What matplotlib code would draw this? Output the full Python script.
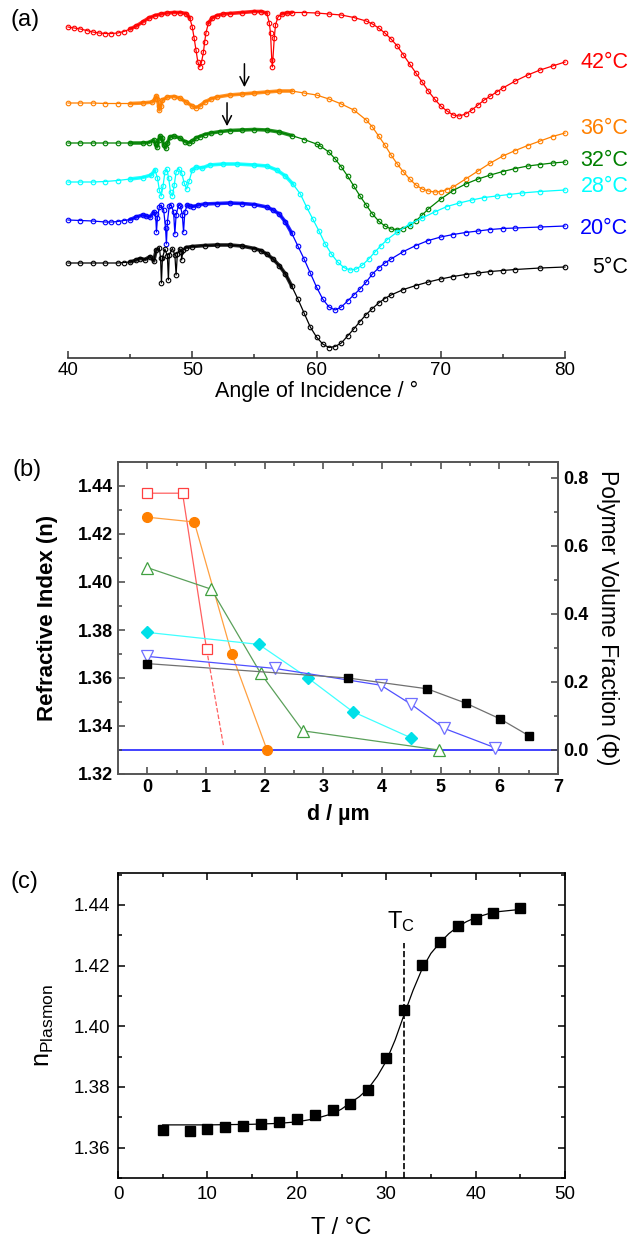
import matplotlib
matplotlib.use('Agg')
import matplotlib.pyplot as plt
from matplotlib.ticker import MultipleLocator

plt.rcParams['font.family'] = ['Liberation Sans', 'DejaVu Sans']
plt.rcParams['mathtext.fontset'] = 'custom'
plt.rcParams['mathtext.rm'] = 'Liberation Sans'
plt.rcParams['mathtext.it'] = 'Liberation Sans'

# ---------------- (a) SPR reflectivity scans, offset curves ----------------
# angle in degrees, reflectivity read as height in the offset stack (arb. units)
ang_42 = [40.0, 40.5, 41.0, 41.5, 42.0, 42.5, 43.0, 43.5, 44.0, 44.5, 45.0, 45.5, 46.0, 46.5,
          47.0, 47.5, 48.0, 48.5, 49.0, 49.5, 49.8, 50.0, 50.15, 50.3, 50.45, 50.6, 50.75,
          50.9, 51.0, 51.1, 51.3, 51.6, 52.0, 52.5, 53.0, 54.0, 55.0, 55.5, 56.0, 56.2, 56.3,
          56.4, 56.45, 56.6, 56.7, 56.9, 57.2, 57.6, 58.0, 59.0, 60.0, 61.0, 62.0, 63.0,
          64.0, 64.5, 65.0, 65.5, 66.0, 66.5, 67.0, 67.5, 68.0, 68.5, 69.0, 69.5, 70.0, 70.5,
          71.0, 71.5, 72.0, 72.5, 73.0, 73.5, 74.0, 74.5, 75.0, 76.0, 77.0, 78.0, 79.0, 80.0]
px_42 = [27, 28, 29, 30.5, 32, 33, 33.5, 33.5, 33, 31.5, 29, 26, 22, 18,
         15.5, 14, 13, 12.5, 12.5, 13.5, 18, 27, 38, 50, 62, 67, 62,
         52, 42, 33, 23, 18, 15.5, 14, 13.5, 12.5, 11.5, 11.5, 13, 23, 33,
         60, 67, 38, 25, 17, 14, 13, 12.5, 12.5, 13, 14, 15, 17.5,
         21, 24, 28, 33, 39, 46, 55, 64, 73, 82, 91, 99, 106, 111,
         115, 116, 114, 110, 105, 100, 96, 92, 88, 81, 75, 70, 66, 62]

ang_36 = [40, 41, 42, 43, 44, 45, 46, 46.8, 47.0, 47.1, 47.2, 47.3, 47.35, 47.45, 47.6, 48.0,
          48.5, 49.0, 49.5, 50.0, 50.3, 50.6, 51.0, 51.5, 52.0, 53.0, 54.0, 55.0, 56.0, 57.0,
          58.0, 59.0, 60.0, 61.0, 62.0, 63.0, 64.0, 64.5, 65.0, 65.5, 66.0, 66.5, 67.0, 67.5,
          68.0, 68.5, 69.0, 69.5, 70.0, 70.5, 71.0, 72.0, 73.0, 74.0, 75.0, 76.0, 77.0, 78.0,
          79.0, 80.0]
px_36 = [103, 103, 103, 103.5, 103.5, 103.5, 103, 102, 99, 96, 99, 106, 110, 106, 100, 97,
         96.5, 98, 102, 106, 107.5, 106, 102, 99, 97, 95, 94, 93, 92, 91,
         91, 93, 95, 99, 104, 110, 120, 127, 136, 145, 155, 164, 172, 179,
         185, 189, 191, 192, 191.5, 189.5, 187, 179, 171, 163, 156, 150.5, 145.5, 141,
         136.5, 133]

ang_32 = [40, 41, 42, 43, 44, 45, 46, 46.5, 46.9, 47.05, 47.15, 47.3, 47.4, 47.55, 47.7,
          47.85, 48.0, 48.2, 48.5, 49.0, 49.4, 49.7, 50.0, 50.3, 50.6, 51.0, 51.5, 52.2, 53.0,
          54.0, 55.0, 56.0, 57.0, 58.0, 59.0, 60.0, 60.3, 61.0, 61.5, 62.0, 62.5, 63.0, 63.5,
          64.0, 64.5, 65.0, 65.5, 66.0, 66.5, 67.0, 67.5, 68.0, 68.5, 69.0, 70.0, 71.0, 72.0,
          73.0, 74.0, 75.0, 76.0, 77.0, 78.0, 79.0, 80.0]
px_32 = [143, 143, 143, 143, 143, 143, 143, 142.5, 140, 144, 147, 140, 136, 138, 145,
         148, 143, 137, 136, 138, 141.5, 143, 141, 138, 136.5, 134.5, 133, 131.7, 130.5,
         130, 129.5, 130, 132, 135.5, 139.5, 144, 146, 152, 159, 167, 176, 186, 196,
         205, 214, 221, 226, 229, 229.5, 228.5, 225.5, 221, 215, 209, 199, 190.5, 184,
         179, 175, 171.5, 168.5, 166, 164.5, 163, 162]

ang_28 = [40, 41, 42, 43, 44, 45, 46, 46.7, 47.0, 47.2, 47.35, 47.5, 47.65, 47.8, 47.95,
          48.1, 48.25, 48.4, 48.55, 48.7, 48.9, 49.15, 49.35, 49.55, 49.75, 50.0, 50.3, 50.8,
          51.4, 52.5, 53.6, 55.0, 56.0, 56.8, 57.5, 58.1, 58.7, 59.2, 59.7, 60.2, 60.7, 61.2,
          61.7, 62.2, 62.7, 63.2, 63.7, 64.2, 64.7, 65.2, 65.7, 66.5, 67.5, 68.5, 69.5, 70.5,
          71.5, 72.5, 73.5, 74.5, 75.5, 76.5, 78.0, 80.0]
px_28 = [182, 182, 182, 181.5, 180.5, 179, 177.5, 175, 170, 178, 190, 196, 186, 172, 169,
         178, 192, 196, 185, 172, 168.5, 173, 183, 189, 181, 170, 167, 168,
         165, 164, 164, 165, 166, 170, 176, 184, 194, 207, 219, 231, 244, 254,
         262, 267.5, 270, 269, 265, 259, 252, 245.5, 239.5, 232, 224, 218, 212, 206.5,
         203, 200, 197.5, 196, 194.5, 193, 191.5, 190]

ang_20 = [40, 41, 42, 43, 43.5, 44, 44.5, 45, 45.5, 46.0, 46.3, 46.6, 46.9, 47.05, 47.12,
          47.2, 47.35, 47.5, 47.7, 47.85, 47.92, 48.0, 48.15, 48.3, 48.5, 48.6, 48.7, 48.9,
          49.05, 49.2, 49.3, 49.4, 49.6, 49.8, 50.1, 50.5, 51.0, 52.0, 53.0, 54.0, 55.0, 56.0,
          56.5, 57.0, 57.5, 58.0, 58.5, 59.0, 59.5, 60.0, 60.5, 61.0, 61.5, 62.0, 62.5, 63.0,
          63.5, 64.0, 64.5, 65.0, 65.5, 66.0, 67.0, 68.0, 69.0, 70.0, 71.0, 72.0, 73.0, 74.0,
          75.0, 76.0, 78.0, 80.0]
px_20 = [220, 220.5, 221, 222, 222, 221.5, 220.5, 219.5, 217, 215, 216, 217, 212, 214, 232,
         218, 207, 205, 210, 228, 244, 222, 206, 205, 212, 234, 215, 205,
         206, 215, 232, 212, 205, 206, 206.5, 205, 204, 203.5, 203, 203.5, 204.5, 207,
         210, 214, 222, 233, 246, 259, 273, 287, 299, 307, 310, 307, 301, 295,
         289, 282, 274, 268, 263, 259, 251.5, 245.5, 240.5, 237, 234.5, 232.5, 231, 229.5,
         228.5, 228, 227, 226]

ang_5 = [40, 41, 42, 43, 44, 44.5, 45, 45.5, 45.8, 46.2, 46.6, 46.9, 47.1, 47.35, 47.45,
         47.52, 47.6, 47.8, 48.0, 48.08, 48.15, 48.4, 48.6, 48.7, 48.8, 49.0, 49.1, 49.15,
         49.25, 49.5, 50.0, 51.0, 52.0, 53.0, 54.0, 55.0, 55.5, 56.0, 56.5, 57.0, 57.5, 58.0,
         58.5, 59.0, 59.5, 60.0, 60.5, 61.0, 61.5, 62.0, 62.5, 63.0, 63.5, 64.0, 64.5, 65.0,
         65.5, 66.0, 67.0, 68.0, 69.0, 70.0, 71.0, 72.0, 73.0, 74.0, 75.0, 76.0, 78.0, 80.0]
px_5 = [263, 263, 263, 263, 263, 262.5, 262, 260, 258.5, 259.5, 256.5, 261, 250, 247.5, 258,
        283, 258, 249, 256, 280, 255, 248.5, 255, 275, 254, 248.5, 252, 260,
        250, 247.5, 246.5, 245.5, 245, 245, 246, 248.5, 250.5, 254, 259, 265.5, 274, 286,
        299, 313, 327, 337, 344, 347.5, 346.5, 343, 336, 329, 321.5, 314.5, 308.5, 303,
        298.5, 295, 289.5, 285.5, 282, 279, 276.5, 274.5, 273, 271.5, 270.5, 269.5, 268, 267]

scans = [(ang_42, px_42, '#ff0000', '42°C'),
         (ang_36, px_36, '#ff8000', '36°C'),
         (ang_32, px_32, '#008000', '32°C'),
         (ang_28, px_28, '#00ffff', '28°C'),
         (ang_20, px_20, '#0000ff', '20°C'),
         (ang_5, px_5, '#000000', '5°C')]
label_pos = [62, 128, 161, 187, 228, 267]
# finely sampled angle ranges (drawn as a thick band), sharp dips left thin
dense_parts = [[(45.0, 49.8), (51.3, 56.0), (57.0, 58.2)],
               [(45.0, 58.2)],
               [(45.0, 58.2)],
               [(45.0, 47.0), (49.9, 58.2)],
               [(45.0, 46.95), (49.5, 58.2)],
               [(45.0, 47.1), (49.3, 58.2)]]

# ---------------- (b) refractive index profiles ----------------
d_42 = [0, 0.60, 1.01]
n_42 = [1.437, 1.437, 1.372]
d_42_ext = [1.01, 1.30]
n_42_ext = [1.372, 1.3315]
d_36 = [0, 0.80, 1.44, 2.04]
n_36 = [1.427, 1.425, 1.370, 1.330]
d_32 = [0, 1.09, 1.93, 2.65, 4.97]
n_32 = [1.406, 1.397, 1.362, 1.338, 1.330]
d_28 = [0, 1.90, 2.74, 3.50, 4.50]
n_28 = [1.379, 1.374, 1.360, 1.346, 1.335]
d_20 = [0, 2.17, 3.98, 4.50, 5.06, 5.92]
n_20 = [1.369, 1.364, 1.357, 1.349, 1.339, 1.331]
d_5 = [0, 3.42, 4.77, 5.43, 6.01, 6.50]
n_5 = [1.366, 1.360, 1.3555, 1.3495, 1.343, 1.336]
n_water = 1.33

# ---------------- (c) plasmon index vs temperature ----------------
T = [5, 8, 10, 12, 14, 16, 18, 20, 22, 24, 26, 28, 30, 32, 34, 36, 38, 40, 42, 45]
n_pl = [1.3659, 1.3656, 1.3662, 1.3667, 1.3670, 1.3677, 1.3686, 1.3693, 1.3707, 1.3724,
        1.3745, 1.3790, 1.3896, 1.4052, 1.4202, 1.4277, 1.4329, 1.4354, 1.4374, 1.4391]
T_fit = [5, 10, 15, 18, 20, 22, 24, 25, 26, 27, 28, 29, 30, 31, 32, 33, 34, 35, 36, 37,
         38, 39, 40, 42, 45]
n_fit = [1.3675, 1.3675, 1.3677, 1.3680, 1.3685, 1.3695, 1.3712, 1.3727, 1.3748, 1.3768,
         1.3795, 1.3835, 1.3885, 1.3955, 1.4038, 1.4118, 1.4188, 1.4240, 1.4275, 1.4305,
         1.4328, 1.4345, 1.4358, 1.4376, 1.4385]
Tc = 32

W, H = 630, 1251
fig = plt.figure(figsize=(W / 100, H / 100), dpi=100)


def rect(l, t, r, b):
    return [l / W, 1 - b / H, (r - l) / W, (b - t) / H]


# ---- panel (a)
axa = fig.add_axes(rect(68, 0, 565, 358))
for (ang, px, col, lab), parts in zip(scans, dense_parts):
    y = [(358 - p) / 100 for p in px]
    axa.plot(ang, y, '-', color=col, lw=0.9, marker='o', ms=3.3, mfc='none', mew=0.8,
             clip_on=False)
    for lo, hi in parts:
        xs = [a for a in ang if lo <= a <= hi]
        ys = [v for a, v in zip(ang, y) if lo <= a <= hi]
        axa.plot(xs, ys, '-', color=col, lw=2.6, solid_capstyle='round', alpha=0.85)
for (ang, px, col, lab), ly in zip(scans, label_pos):
    axa.text(85.1, (358 - ly) / 100, lab, color=col, fontsize=15.5, ha='right', va='center',
             clip_on=False)
axa.annotate('', xy=(54.2, (358 - 90) / 100), xytext=(54.2, (358 - 61) / 100),
             arrowprops=dict(arrowstyle='->', color='black', lw=1.1, mutation_scale=16))
axa.annotate('', xy=(52.8, (358 - 129) / 100), xytext=(52.8, (358 - 100) / 100),
             arrowprops=dict(arrowstyle='->', color='black', lw=1.1, mutation_scale=16))
axa.set_xlim(40, 80)
axa.set_ylim(0, 3.58)
for s in ['top', 'left', 'right']:
    axa.spines[s].set_visible(False)
axa.spines['bottom'].set_color('#333333')
axa.spines['bottom'].set_linewidth(1.2)
axa.set_yticks([])
axa.xaxis.set_major_locator(MultipleLocator(10))
axa.xaxis.set_minor_locator(MultipleLocator(5))
axa.tick_params(axis='x', which='both', direction='in', labelsize=13.5, color='#333333')
axa.tick_params(axis='x', which='major', length=5, width=1.1, pad=3)
axa.tick_params(axis='x', which='minor', length=3, width=1.1)
axa.set_xlabel('Angle of Incidence / °', fontsize=15.5, labelpad=1)
fig.text(10 / W, 1 - 20 / H, '(a)', fontsize=17, va='center', ha='left')

# ---- panel (b)
axb = fig.add_axes(rect(118, 462, 558, 774))
axb.axhline(n_water, color='#3333ff', lw=1.3, zorder=1)
axb.plot(d_42_ext, n_42_ext, '--', color='#ff6060', lw=0.9)
axb.plot(d_42, n_42, '-', color='#ff6060', lw=0.9, marker='s', ms=6.5, mfc='white',
         mec='#ff4040', mew=0.9)
axb.plot(d_36, n_36, '-', color='#ffa040', lw=0.9, marker='o', ms=7, mfc='#ff8000',
         mec='#ff8000')
axb.plot(d_32, n_32, '-', color='#5aa05a', lw=0.9, marker='^', ms=8, mfc='white',
         mec='#40a040', mew=0.9)
axb.plot(d_28, n_28, '-', color='#40ffff', lw=0.9, marker='D', ms=6.5, mfc='#00e0e8',
         mec='#00e0e8')
axb.plot(d_20, n_20, '-', color='#5050ff', lw=0.9, marker='v', ms=8, mfc='white',
         mec='#7070ff', mew=0.9)
axb.plot(d_5, n_5, '-', color='#707070', lw=0.9, marker='s', ms=6, mfc='black',
         mec='black')
axb.set_xlim(-0.5, 7)
axb.set_ylim(1.32, 1.45)
axb.xaxis.set_major_locator(MultipleLocator(1))
axb.xaxis.set_minor_locator(MultipleLocator(0.5))
axb.set_yticks([1.32, 1.34, 1.36, 1.38, 1.40, 1.42, 1.44])
axb.yaxis.set_minor_locator(MultipleLocator(0.01))
axb.tick_params(which='both', direction='in', top=True, right=False, labelsize=13,
                color='#444444', width=1.1)
axb.tick_params(which='major', length=5)
axb.tick_params(which='minor', length=3)
for lab in axb.get_xticklabels() + axb.get_yticklabels():
    lab.set_fontweight('bold')
for s in axb.spines.values():
    s.set_color('#555555')
    s.set_linewidth(1.2)
axb.set_xlabel('d / µm', fontsize=15.5, fontweight='bold', labelpad=6)
axb.set_ylabel('Refractive Index (n)', fontsize=16, fontweight='bold', labelpad=14)
axb2 = axb.twinx()
k = 0.1417
axb2.set_ylim((1.32 - n_water) / k, (1.45 - n_water) / k)
axb2.yaxis.set_major_locator(MultipleLocator(0.2))
axb2.yaxis.set_minor_locator(MultipleLocator(0.1))
axb2.tick_params(which='both', direction='in', labelsize=13, color='#444444', width=1.1)
axb2.tick_params(which='major', length=5)
axb2.tick_params(which='minor', length=3)
for lab in axb2.get_yticklabels():
    lab.set_fontweight('bold')
for s in axb2.spines.values():
    s.set_color('#555555')
    s.set_linewidth(1.2)
axb2.set_ylabel('Polymer Volume Fraction (Φ)', fontsize=16.5, rotation=270, labelpad=22)
fig.text(12 / W, 1 - 470 / H, '(b)', fontsize=17, va='center', ha='left')

# ---- panel (c)
axc = fig.add_axes(rect(118, 873, 565, 1178))
axc.plot(T_fit, n_fit, '-', color='black', lw=0.9)
axc.plot(T, n_pl, 's', color='black', ms=7)
axc.plot([Tc, Tc], [1.35, 1.4275], '--', color='black', lw=1.2)
axc.text(31.7, 1.4345, r'T$_\mathrm{C}$', fontsize=17, ha='center', va='center')
axc.set_xlim(0, 50)
axc.set_ylim(1.35, 1.4505)
axc.xaxis.set_major_locator(MultipleLocator(10))
axc.xaxis.set_minor_locator(MultipleLocator(5))
axc.set_yticks([1.36, 1.38, 1.40, 1.42, 1.44])
axc.yaxis.set_minor_locator(MultipleLocator(0.01))
axc.tick_params(which='both', direction='in', top=True, right=True, labelsize=13.5,
                width=1.1)
axc.tick_params(which='major', length=5, pad=6)
axc.tick_params(which='minor', length=3)
for s in axc.spines.values():
    s.set_linewidth(1.2)
axc.set_xlabel('T / °C', fontsize=17, labelpad=10)
axc.set_ylabel(r'n$_\mathrm{Plasmon}$', fontsize=18, labelpad=12)
fig.text(10 / W, 1 - 882 / H, '(c)', fontsize=17, va='center', ha='left')

fig.savefig('out.png', dpi=100)
